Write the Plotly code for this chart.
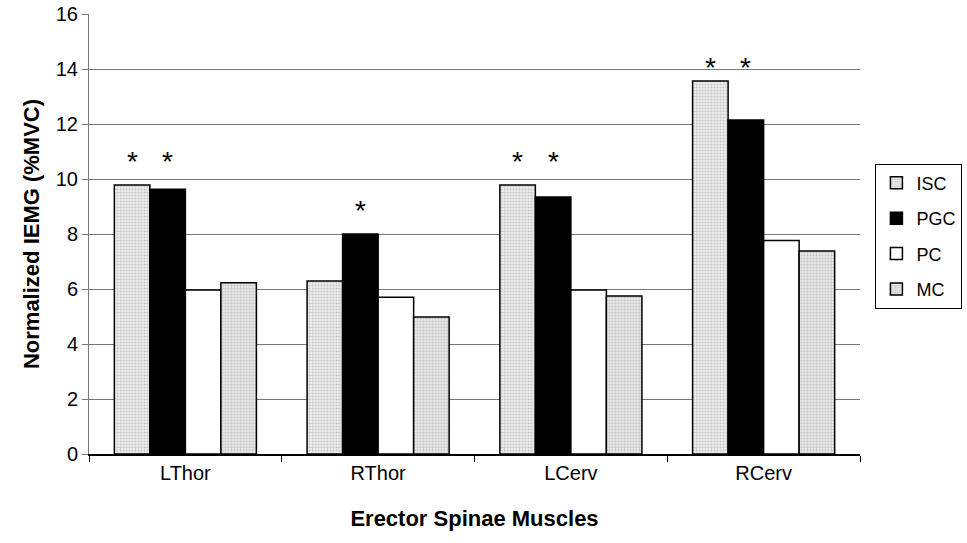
import plotly.graph_objects as go

muscles = ["LThor", "RThor", "LCerv", "RCerv"]
isc = [9.78, 6.29, 9.78, 13.56]
pgc = [9.63, 8.00, 9.35, 12.15]
pc = [5.96, 5.70, 5.96, 7.76]
mc = [6.23, 4.98, 5.75, 7.38]
# significance markers per condition (True = asterisk)
isc_sig = [True, False, True, True]
pgc_sig = [True, True, True, True]
# height (in %MVC units) at which each group's asterisks sit
star_level = [10.8, 9.0, 10.8, 14.2]

y_ticks = [0, 2, 4, 6, 8, 10, 12, 14, 16]

FONT = "Liberation Sans, Arial, sans-serif"
outline = dict(color="black", width=1.5)

fig = go.Figure()
fig.add_trace(go.Bar(
    name="ISC", x=muscles, y=isc, legendgroup="ISC",
    marker=dict(color="#eeeeee", line=outline,
                pattern=dict(shape=".", fgcolor="#9a9a9a", bgcolor="#eeeeee",
                             size=3, solidity=0.4)),
))
fig.add_trace(go.Bar(
    name="PGC", x=muscles, y=pgc, legendgroup="PGC",
    marker=dict(color="black", line=outline),
))
fig.add_trace(go.Bar(
    name="PC", x=muscles, y=pc, legendgroup="PC",
    marker=dict(color="white", line=outline),
))
fig.add_trace(go.Bar(
    name="MC", x=muscles, y=mc, legendgroup="MC",
    marker=dict(color="#e6e6e6", line=outline,
                pattern=dict(shape="+", fgcolor="#a8a8a8", bgcolor="#e6e6e6",
                             size=3, solidity=0.35)),
))

# asterisks above significant bars
plot_w = 967 - 89 - 107
slot = plot_w / len(muscles)
bargap = 0.263
bar_w = slot * (1 - bargap) / 4
annotations = []
for i, m in enumerate(muscles):
    for sig, k in ((isc_sig, 0), (pgc_sig, 1)):
        if sig[i]:
            annotations.append(dict(
                x=m, y=star_level[i], xref="x", yref="y", text="*",
                showarrow=False, xshift=(k - 1.5) * bar_w, yshift=-4,
                font=dict(family=FONT, size=28, color="black"),
                yanchor="middle",
            ))

fig.update_layout(
    width=967, height=543,
    margin=dict(l=89, r=107, t=14, b=89, autoexpand=False),
    paper_bgcolor="white", plot_bgcolor="white",
    barmode="group", bargap=bargap, bargroupgap=0,
    font=dict(family=FONT, size=20, color="black"),
    showlegend=True,
    legend=dict(x=1.02, y=0.66, xanchor="left", yanchor="top",
                bordercolor="black", borderwidth=1, bgcolor="white",
                font=dict(family=FONT, size=18, color="black"),
                itemwidth=30, tracegroupgap=9),
    annotations=annotations,
    xaxis=dict(
        title=dict(text="<b>Erector Spinae Muscles</b>", standoff=28,
                   font=dict(family=FONT, size=22)),
        showline=True, linecolor="black", linewidth=1.5,
        ticks="outside", tickson="boundaries", ticklen=6, tickcolor="black",
        showgrid=False,
    ),
    yaxis=dict(
        title=dict(text="<b>Normalized IEMG (%MVC)</b>", standoff=10,
                   font=dict(family=FONT, size=22)),
        range=[0, 16], tickvals=y_ticks,
        showline=True, linecolor="#777", linewidth=1,
        ticks="outside", ticklen=6, tickcolor="#777",
        showgrid=True, gridcolor="#777", gridwidth=1,
        zeroline=False,
    ),
)

fig.write_html("out.html")
